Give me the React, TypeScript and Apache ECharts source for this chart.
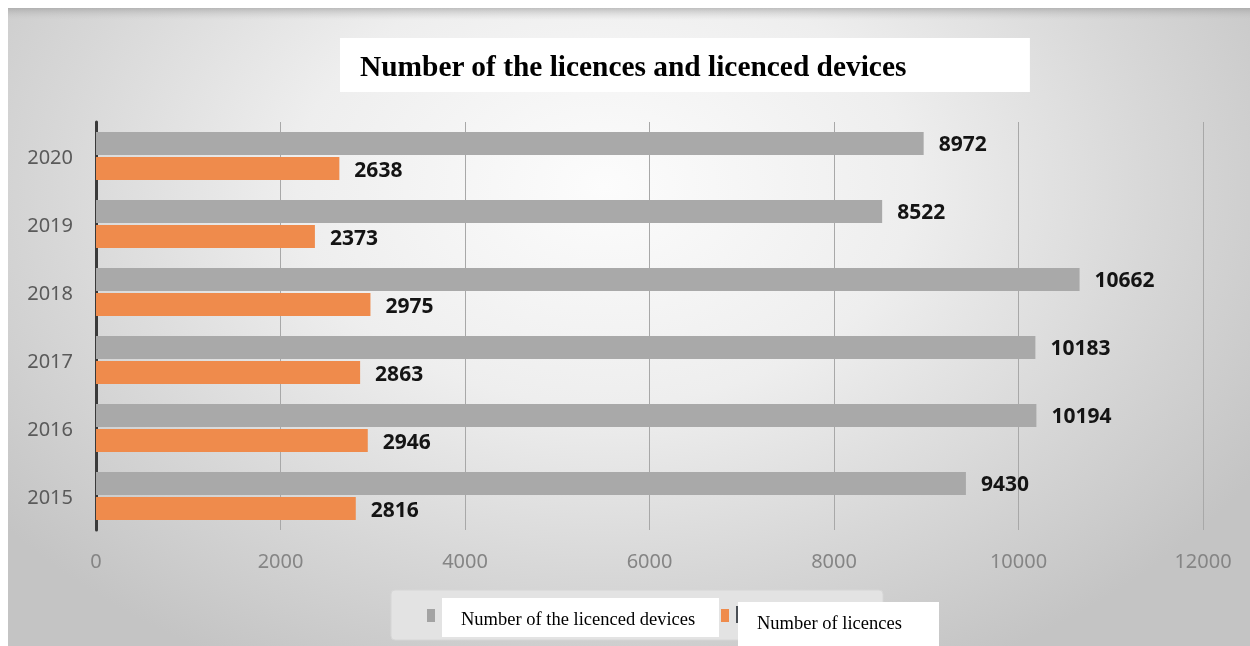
import React, { useEffect, useRef } from "react";
import * as echarts from "echarts";

const years = ["2015", "2016", "2017", "2018", "2019", "2020"];
const devices = [9430, 10194, 10183, 10662, 8522, 8972];
const licences = [2816, 2946, 2863, 2975, 2373, 2638];
const xTicks = { min: 0, max: 12000, interval: 2000 };
const titleText = "Number of the licences and licenced devices";
const legendNames = ["Number of the licenced devices", "Number of licences"];

const GRAY = "#a9a9a9";
const ORANGE = "#ef8b4c";

export default function App() {
  const ref = useRef<HTMLDivElement>(null);
  useEffect(() => {
    if (!ref.current) return;
    const chart = echarts.init(ref.current, undefined, { renderer: "svg" });
    const valueLabel = {
      show: true,
      position: "right",
      distance: 15,
      fontFamily: "Noto Sans",
      fontWeight: "bold",
      fontSize: 21,
      color: "#141414",
    };
    chart.setOption({
      animation: false,
      backgroundColor: "transparent",
      title: {
        text: titleText,
        left: 332,
        top: 30,
        padding: [13, 123, 12, 20],
        backgroundColor: "#ffffff",
        textStyle: {
          fontFamily: "Liberation Serif",
          fontWeight: "bold",
          fontSize: 29.4,
          color: "#000000",
        },
      },
      grid: { left: 88, right: 47, top: 114, bottom: 116 },
      xAxis: {
        type: "value",
        min: xTicks.min,
        max: xTicks.max,
        interval: xTicks.interval,
        axisLine: { show: false },
        axisTick: { show: false },
        splitLine: { show: true, lineStyle: { color: "#a8a8a8", width: 1 } },
        axisLabel: {
          margin: 20,
          fontFamily: "Noto Sans",
          fontSize: 20,
          color: "#858585",
          formatter: (v: number) => String(v),
        },
      },
      yAxis: {
        type: "category",
        data: years,
        axisLine: { show: true, lineStyle: { color: "#3a3a3a", width: 3 } },
        axisTick: { show: false },
        axisLabel: {
          margin: 23,
          fontFamily: "Noto Sans",
          fontSize: 20,
          color: "#5a5a5a",
        },
      },
      series: [
        {
          name: legendNames[0],
          type: "bar",
          data: devices,
          barWidth: 23,
          barGap: "9%",
          itemStyle: { color: GRAY },
          label: valueLabel,
        },
        {
          name: legendNames[1],
          type: "bar",
          data: licences,
          barWidth: 23,
          barGap: "9%",
          itemStyle: { color: ORANGE },
          label: valueLabel,
        },
      ],
      graphic: [
        {
          type: "rect",
          left: 0,
          top: 0,
          shape: { x: 0, y: 0, width: 1242, height: 12 },
          style: {
            fill: new echarts.graphic.LinearGradient(0, 0, 0, 1, [
              { offset: 0, color: "rgba(150,150,150,0.55)" },
              { offset: 1, color: "rgba(200,200,200,0)" },
            ]),
          },
          silent: true,
          z: -10,
        },
        {
          type: "rect",
          shape: { x: 383, y: 582, width: 492, height: 50, r: 4 },
          style: { fill: "#e3e3e3", stroke: "#d6d6d6", lineWidth: 1 },
          silent: true,
          z: 1,
        },
        {
          type: "rect",
          shape: { x: 419, y: 601, width: 8, height: 13 },
          style: { fill: "#a3a3a3" },
          z: 2,
        },
        {
          type: "rect",
          shape: { x: 434, y: 590, width: 277, height: 39 },
          style: { fill: "#ffffff" },
          z: 3,
        },
        {
          type: "text",
          x: 453,
          y: 610.5,
          style: {
            text: legendNames[0],
            fontFamily: "Liberation Serif",
            fontSize: 18.5,
            fill: "#000000",
            verticalAlign: "middle",
            align: "left",
          },
          z: 4,
        },
        {
          type: "rect",
          shape: { x: 713, y: 601, width: 8, height: 13 },
          style: { fill: ORANGE },
          z: 2,
        },
        {
          type: "rect",
          shape: { x: 728, y: 598, width: 2.5, height: 17 },
          style: { fill: "#4a4f55" },
          z: 2,
        },
        {
          type: "rect",
          shape: { x: 730, y: 594, width: 201, height: 46 },
          style: { fill: "#ffffff" },
          z: 3,
        },
        {
          type: "text",
          x: 749,
          y: 614.5,
          style: {
            text: legendNames[1],
            fontFamily: "Liberation Serif",
            fontSize: 18.5,
            fill: "#000000",
            verticalAlign: "middle",
            align: "left",
          },
          z: 4,
        },
      ],
    });
    return () => chart.dispose();
  }, []);
  return (
    <div
      ref={ref}
      style={{
        position: "fixed",
        left: 8,
        top: 8,
        width: 1242,
        height: 638,
        background:
          "radial-gradient(ellipse 62% 85% at 48% 28%, #fcfcfc 0%, #eeeeee 40%, #d7d7d7 72%, #c4c4c4 100%)",
      }}
    />
  );
}
